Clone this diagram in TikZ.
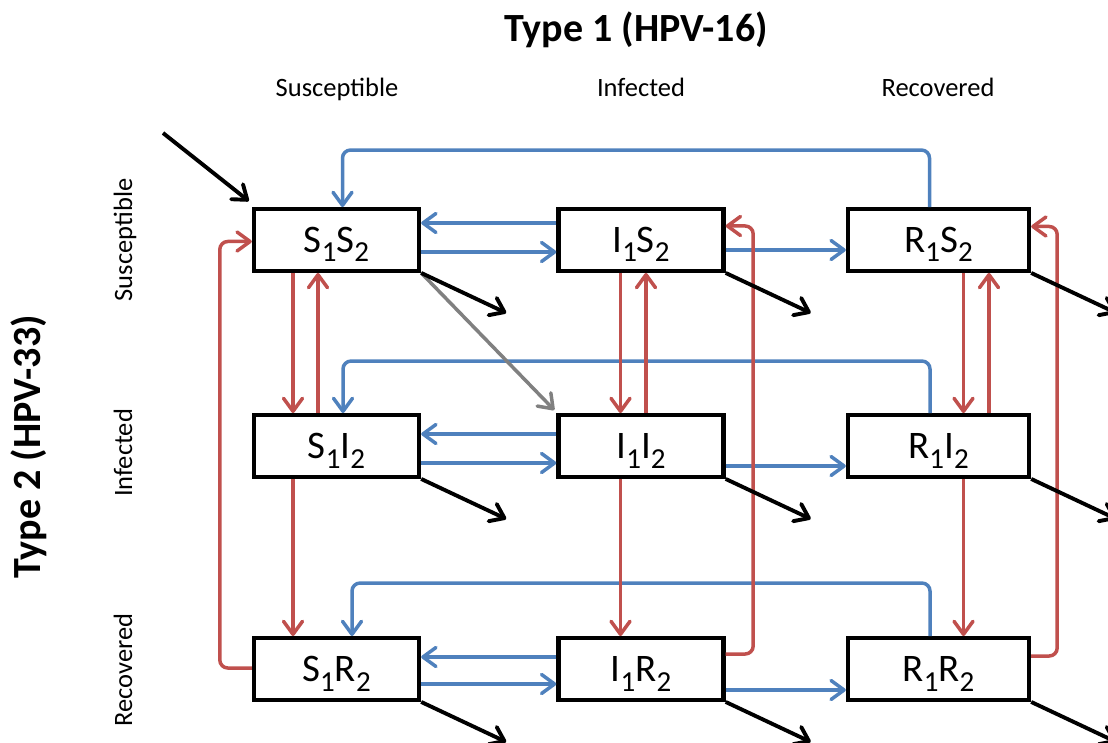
\documentclass[tikz,border=0pt]{standalone}
\usepackage{fontspec}
\setmainfont{Carlito}
\usetikzlibrary{arrows.meta,calc}
\definecolor{flowblue}{HTML}{4F81BD}
\definecolor{flowred}{HTML}{C0504D}
\definecolor{flowgray}{HTML}{808080}
% lowered, smaller index used inside the state boxes
\newcommand\lowsub[1]{\raisebox{-9.5pt}{\fontsize{29}{29}\selectfont #1}}
\newcommand\statelabel[4]{#1\lowsub{#2}#3\lowsub{#4}}
\begin{document}
\begin{tikzpicture}[x=1pt,y=-1pt,
  tip/.tip={Straight Barb[length=13pt,width=19pt,round]},
  statebox/.style={draw=black,line width=4.4pt,fill=white,minimum width=165pt,
    minimum height=61.5pt,inner sep=0pt,text height=25pt,text depth=0pt,
    font=\fontsize{39}{39}\selectfont},
  widebox/.style={statebox,minimum width=181pt},
  blueflow/.style={draw=flowblue,line width=3.5pt,-tip},
  redflow/.style={draw=flowred,line width=3.5pt,-tip},
  grayflow/.style={draw=flowgray,line width=3.5pt,-tip},
  blackflow/.style={draw=black,line width=3.9pt,-tip},
  axislabel/.style={font=\fontsize{26.5}{26.5}\selectfont,anchor=base},
  axistitle/.style={font=\fontsize{40}{40}\selectfont\bfseries,anchor=base}]
\useasboundingbox (0,0) rectangle (1108,743);
\clip (0,0) rectangle (1108,743);

% axis titles and labels
\node[axistitle] (t1) at (636,42) {Type 1 (HPV-16)};
\node[axistitle,rotate=90] (t2) at (40,447) {Type 2 (HPV-33)};
\node[axislabel] (cs) at (337,97) {Susceptible};
\node[axislabel] (ci) at (641,97) {Infected};
\node[axislabel] (cr) at (938,97) {Recovered};
\node[axislabel,rotate=90] (rs-l) at (132,240) {Susceptible};
\node[axislabel,rotate=90] (ri-l) at (132,453) {Infected};
\node[axislabel,rotate=90] (rr-l) at (132,670) {Recovered};

% compartments
\node[statebox] (ss) at (336.5,240) {\statelabel{S}{1}{S}{2}};
\node[statebox] (is) at (641,240) {\statelabel{I}{1}{S}{2}};
\node[widebox]  (rs) at (938.5,240) {\statelabel{R}{1}{S}{2}};
\node[statebox] (si) at (336.5,446) {\statelabel{S}{1}{I}{2}};
\node[statebox] (ii) at (641,446) {\statelabel{I}{1}{I}{2}};
\node[widebox]  (ri) at (938.5,446) {\statelabel{R}{1}{I}{2}};
\node[statebox] (sr) at (336.5,669) {\statelabel{S}{1}{R}{2}};
\node[statebox] (ir) at (641,669) {\statelabel{I}{1}{R}{2}};
\node[widebox]  (rr) at (938.5,669) {\statelabel{R}{1}{R}{2}};

% type 1 transitions (horizontal)
\draw[blueflow] ($(is.west)+(0,-17)$) -- ($(ss.east)+(0,-17)$);
\draw[blueflow] ($(ss.east)+(0,12)$) -- ($(is.west)+(0,12)$);
\draw[blueflow] ($(is.east)+(0,10)$) -- ($(rs.west)+(0,10)$);
\draw[blueflow] ($(ii.west)+(0,-12)$) -- ($(si.east)+(0,-12)$);
\draw[blueflow] ($(si.east)+(0,17)$) -- ($(ii.west)+(0,17)$);
\draw[blueflow] ($(ii.east)+(0,20)$) -- ($(ri.west)+(0,20)$);
\draw[blueflow] ($(ir.west)+(0,-12)$) -- ($(sr.east)+(0,-12)$);
\draw[blueflow] ($(sr.east)+(0,15)$) -- ($(ir.west)+(0,15)$);
\draw[blueflow] ($(ir.east)+(0,21)$) -- ($(rr.west)+(0,21)$);

% loss of type 1 immunity
\draw[blueflow,rounded corners=8pt] ($(rs.north)+(-9,0)$) -- ++(0,-57) -| ($(ss.north)+(6,0)$);
\draw[blueflow,rounded corners=8pt] ($(ri.north)+(-8.5,0)$) -- ++(0,-52) -| ($(si.north)+(6.5,0)$);
\draw[blueflow,rounded corners=8pt] ($(rr.north)+(-8.5,0)$) -- ++(0,-53) -| ($(sr.north)+(15.5,0)$);

% type 2 transitions (vertical)
\draw[redflow] ($(ss.south)+(-43.5,0)$) -- ($(si.north)+(-43.5,0)$);
\draw[redflow] ($(si.north)+(-18.5,0)$) -- ($(ss.south)+(-18.5,0)$);
\draw[redflow] ($(si.south)+(-43.5,0)$) -- ($(sr.north)+(-43.5,0)$);
\draw[redflow] ($(is.south)+(-20.5,0)$) -- ($(ii.north)+(-20.5,0)$);
\draw[redflow] ($(ii.north)+(5,0)$) -- ($(is.south)+(5,0)$);
\draw[redflow] ($(ii.south)+(-20.5,0)$) -- ($(ir.north)+(-20.5,0)$);
\draw[redflow] ($(rs.south)+(25,0)$) -- ($(ri.north)+(25,0)$);
\draw[redflow] ($(ri.north)+(50.5,0)$) -- ($(rs.south)+(50.5,0)$);
\draw[redflow] ($(ri.south)+(25,0)$) -- ($(rr.north)+(25,0)$);

% loss of type 2 immunity
\draw[redflow,rounded corners=8pt] ($(sr.west)+(0,-1)$) -| ($(ss.west)+(-32,1.5)$) -- ($(ss.west)+(0,1.5)$);
\draw[redflow,rounded corners=8pt] ($(ir.east)+(0,-15)$) -| ($(is.east)+(27.5,-14)$) -- ($(is.east)+(0,-14)$);
\draw[redflow,rounded corners=8pt] ($(rr.east)+(0,-13)$) -| ($(rs.east)+(26,-13.5)$) -- ($(rs.east)+(0,-13.5)$);

% co-infection
\draw[grayflow] (ss.south east) -- ($(ii.north west)+(-2,-3)$);

% entry and exit
\coordinate (entry) at (163,133);
\draw[blackflow] (entry) -- ($(ss.north west)+(-3,-6)$);
\foreach \b in {ss,is,rs,si,ii,ri,sr,ir,rr}
  \draw[blackflow] (\b.south east) -- ++(85,40);
\end{tikzpicture}
\end{document}
